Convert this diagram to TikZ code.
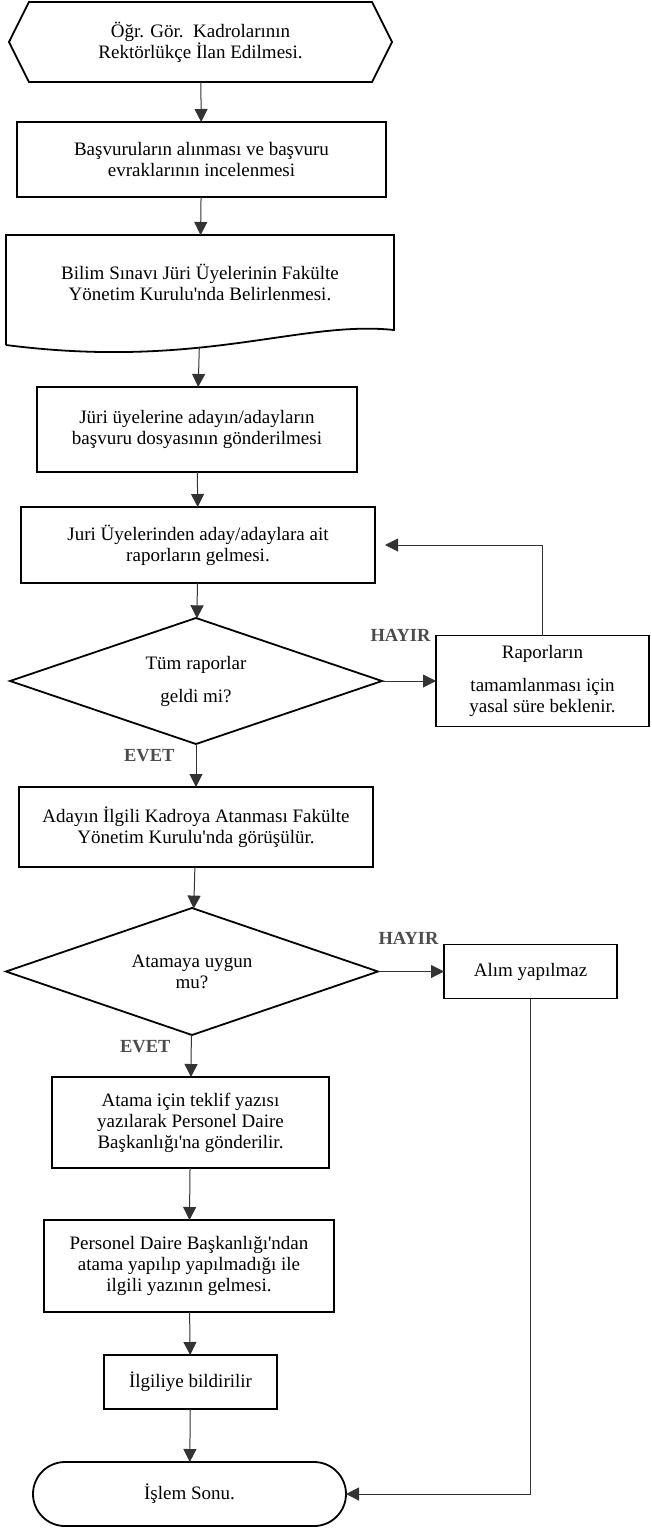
\documentclass[tikz,border=0pt]{standalone}
\usepackage{fontspec}
\setmainfont{Liberation Serif}[Ligatures=TeXOff]
\usetikzlibrary{positioning, shapes.geometric, shapes.symbols, arrows.meta}

\tikzset{
  kutu/.style={draw, line width=1.8pt, align=center, inner sep=0pt, outer sep=0pt},
  karar/.style={draw, diamond, aspect=3, line width=1.8pt, align=center, inner sep=0pt, outer sep=0pt},
  ok/.style={-{Triangle[length=13pt,width=13pt]}, line width=1pt, draw=black!80},
  etiket/.style={font=\fontsize{18.5}{20}\selectfont\bfseries, text=black!70},
}

\begin{document}
\begin{tikzpicture}[x=1pt, y=1pt, font=\fontsize{19}{21}\selectfont]
  \useasboundingbox (0,0) rectangle (651,-1528);

  \node[draw, signal, signal to=west and east, signal pointer angle=127, line width=1.8pt, align=center, inner sep=0pt, outer sep=0pt,
        minimum width=383pt, minimum height=80pt] (ilan) at (200.5,-42) {Öğr. Gör.\ \ Kadrolarının\\Rektörlükçe İlan Edilmesi.};
  \node[kutu, minimum width=369pt, minimum height=75pt, below=40pt of ilan, xshift=1pt] (basvuru) {Başvuruların alınması ve başvuru\\evraklarının incelenmesi};
  \node[kutu, draw=none, minimum width=388pt, minimum height=95pt, below=38pt of basvuru, xshift=-1.5pt] (juri) {Bilim Sınavı Jüri Üyelerinin Fakülte\\Yönetim Kurulu'nda Belirlenmesi.};
  % belge seklinin dalgali alt kenari
  \draw[line width=1.8pt] ([yshift=-15pt]juri.south west) -- (juri.north west) -- (juri.north east) -- (juri.south east)
    .. controls +(-94,10) and ([shift={(194,-40)}]juri.south west) .. ([yshift=-15pt]juri.south west) coordinate[pos=0.6] (juri dalga);
  \node[kutu, minimum width=320pt, minimum height=85pt, below=57pt of juri, xshift=-3pt] (dosya) {Jüri üyelerine adayın/adayların\\başvuru dosyasının gönderilmesi};
  \node[kutu, minimum width=354pt, minimum height=76pt, below=35pt of dosya, xshift=1pt] (rapor) {Juri Üyelerinden aday/adaylara ait\\raporların gelmesi.};
  \node[karar, minimum width=372pt, minimum height=126pt, below=35pt of rapor, xshift=-2pt] (karar1) {Tüm raporlar\\[12pt]geldi mi?};
  \node[kutu, minimum width=213pt, minimum height=91pt, right=54pt of karar1] (bekle) {Raporların\\[12pt]tamamlanması için\\yasal süre beklenir.};
  \node[kutu, minimum width=354pt, minimum height=80pt, below=43pt of karar1] (gorus) {Adayın İlgili Kadroya Atanması Fakülte\\Yönetim Kurulu'nda görüşülür.};
  \node[karar, minimum width=372pt, minimum height=127pt, below=41pt of gorus, xshift=-4pt] (karar2) {Atamaya uygun\\mu?};
  \node[kutu, minimum width=173pt, minimum height=54pt, right=66pt of karar2] (alim) {Alım yapılmaz};
  \node[kutu, minimum width=277pt, minimum height=91pt, below=42pt of karar2, xshift=-1.5pt] (teklif) {Atama için teklif yazısı\\yazılarak Personel Daire\\Başkanlığı'na gönderilir.};
  \node[kutu, minimum width=290pt, minimum height=92pt, below=52pt of teklif, xshift=-1.5pt] (personel) {Personel Daire Başkanlığı'ndan\\atama yapılıp yapılmadığı ile\\ilgili yazının gelmesi.};
  \node[kutu, minimum width=173pt, minimum height=54pt, below=43pt of personel, xshift=1.5pt] (bildir) {İlgiliye bildirilir};
  \node[kutu, rounded corners=32pt, minimum width=313pt, minimum height=64pt, below=53pt of bildir, xshift=-1pt] (son) {İşlem Sonu.};

  \node[etiket, left=2pt of bekle.north west] (hayir1) {HAYIR};
  \node[etiket, left=2pt of alim.north west, yshift=6pt] (hayir2) {HAYIR};
  \node[etiket, below left=2pt and 18pt of karar1.south] (evet1) {EVET};
  \node[etiket, below left=2pt and 18pt of karar2.south] (evet2) {EVET};

  \draw[ok] (ilan) -- (basvuru);
  \draw[ok] (basvuru) -- (juri);
  \draw[ok] (juri dalga) -- (dosya);
  \draw[ok] (dosya) -- (rapor);
  \draw[ok] (rapor) -- (karar1);
  \draw[ok] (karar1) -- (bekle);
  \draw[ok, shorten >=10pt] (bekle.north) |- (rapor.east);
  \draw[ok] (karar1) -- (gorus);
  \draw[ok] (gorus) -- (karar2);
  \draw[ok] (karar2) -- (alim);
  \draw[ok] (karar2) -- (teklif);
  \draw[ok] (teklif) -- (personel);
  \draw[ok] (personel) -- (bildir);
  \draw[ok] (bildir) -- (son);
  \draw[ok] (alim.south) |- (son.east);
\end{tikzpicture}
\end{document}
